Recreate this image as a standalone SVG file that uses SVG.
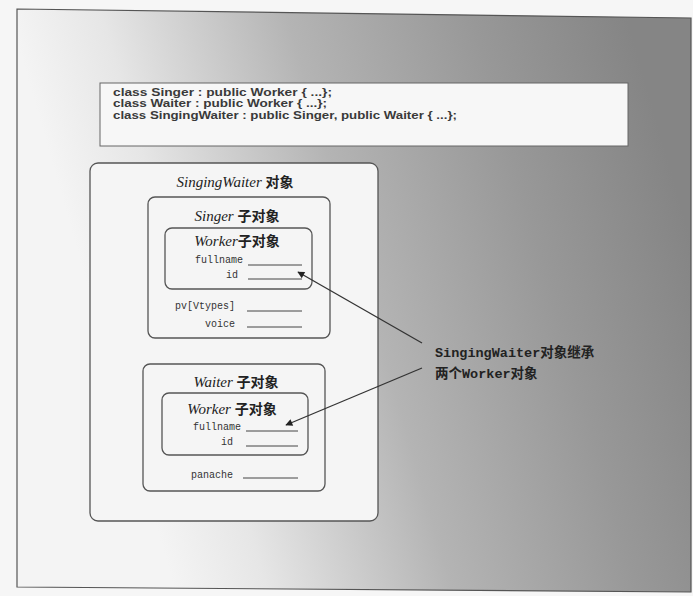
<svg xmlns="http://www.w3.org/2000/svg" width="693" height="596" viewBox="0 0 693 596">
<defs>
<linearGradient id="bg" gradientUnits="userSpaceOnUse" x1="120" y1="400" x2="690" y2="236">
<stop offset="0" stop-color="#f4f4f4"/>
<stop offset="0.15" stop-color="#e6e6e6"/>
<stop offset="0.45" stop-color="#b4b4b4"/>
<stop offset="0.75" stop-color="#989898"/>
<stop offset="1" stop-color="#858585"/>
</linearGradient>
<marker id="ah" viewBox="0 0 10 10" refX="9" refY="5" markerWidth="9" markerHeight="7" orient="auto" markerUnits="userSpaceOnUse">
<path d="M0,0 L10,5 L0,10 z" fill="#222"/>
</marker>
<style>
.box{fill:#f5f5f5;stroke:#555;stroke-width:1.3}
.code{font-family:"Liberation Sans",Arial,sans-serif;font-size:10.5px;font-weight:bold;fill:#3a3a3a}
.ti{font-family:"Liberation Serif","Times New Roman",serif;font-style:italic;font-size:15px;fill:#222}
.cn{font-family:"Noto Sans CJK SC",sans-serif;font-style:normal;font-weight:bold;font-size:14px;fill:#222}
.fld{font-family:"Liberation Mono","DejaVu Sans Mono",monospace;font-size:10px;fill:#333}
.ln{stroke:#444;stroke-width:1}
.lbl{font-family:"Liberation Mono","Noto Sans CJK SC",monospace;font-weight:bold;font-size:13.5px;fill:#222}
.conn{stroke:#333;stroke-width:1.3;fill:none}
</style>
</defs>
<rect x="0" y="0" width="693" height="596" fill="#f6f6f6"/>
<polygon points="17,9 691,18 691,592 17,587" fill="url(#bg)" stroke="#555" stroke-width="1.2"/>

<g id="code">
<rect x="100" y="83" width="528" height="63" fill="#f7f7f7" stroke="#666" stroke-width="1"/>
<text class="code" x="113" y="96" textLength="219" lengthAdjust="spacingAndGlyphs">class Singer : public Worker { ...};</text>
<text class="code" x="113" y="107" textLength="214" lengthAdjust="spacingAndGlyphs">class Waiter : public Worker { ...};</text>
<text class="code" x="113" y="119" textLength="344" lengthAdjust="spacingAndGlyphs">class SingingWaiter : public Singer, public Waiter { ...};</text>
</g>

<g id="singingwaiter">
<rect class="box" x="90" y="163" width="288" height="358" rx="8"/>
<text class="ti" x="235" y="187" text-anchor="middle">SingingWaiter <tspan class="cn">对象</tspan></text>
</g>

<g id="singer">
<rect class="box" x="148" y="197" width="182" height="141" rx="7"/>
<text class="ti" x="237" y="221" text-anchor="middle">Singer <tspan class="cn">子对象</tspan></text>
<text class="fld" x="235" y="309" text-anchor="end">pv[Vtypes]</text>
<line class="ln" x1="247" y1="311" x2="302" y2="311"/>
<text class="fld" x="235" y="327" text-anchor="end">voice</text>
<line class="ln" x1="247" y1="327" x2="302" y2="327"/>
</g>

<g id="worker1">
<rect class="box" x="165" y="228" width="147" height="61" rx="7"/>
<text class="ti" x="237" y="246" text-anchor="middle">Worker<tspan class="cn">子对象</tspan></text>
<text class="fld" x="243" y="263" text-anchor="end">fullname</text>
<line class="ln" x1="248" y1="265" x2="302" y2="265"/>
<text class="fld" x="238" y="278" text-anchor="end">id</text>
<line class="ln" x1="248" y1="279" x2="302" y2="279"/>
</g>

<g id="waiter">
<rect class="box" x="143" y="364" width="182" height="127" rx="7"/>
<text class="ti" x="236" y="387" text-anchor="middle">Waiter <tspan class="cn">子对象</tspan></text>
<text class="fld" x="233" y="478" text-anchor="end">panache</text>
<line class="ln" x1="243" y1="478" x2="298" y2="478"/>
</g>

<g id="worker2">
<rect class="box" x="162" y="393" width="146" height="62" rx="7"/>
<text class="ti" x="232" y="414" text-anchor="middle">Worker <tspan class="cn">子对象</tspan></text>
<text class="fld" x="241" y="430" text-anchor="end">fullname</text>
<line class="ln" x1="246" y1="431" x2="298" y2="431"/>
<text class="fld" x="233" y="445" text-anchor="end">id</text>
<line class="ln" x1="246" y1="446" x2="298" y2="446"/>
</g>

<g id="connectors">
<line class="conn" x1="422" y1="343" x2="298" y2="272" marker-end="url(#ah)"/>
<line class="conn" x1="422" y1="368" x2="286" y2="425" marker-end="url(#ah)"/>
</g>

<g id="label">
<text class="lbl" x="435" y="357">SingingWaiter对象继承</text>
<text class="lbl" x="435" y="378">两个Worker对象</text>
</g>
</svg>
